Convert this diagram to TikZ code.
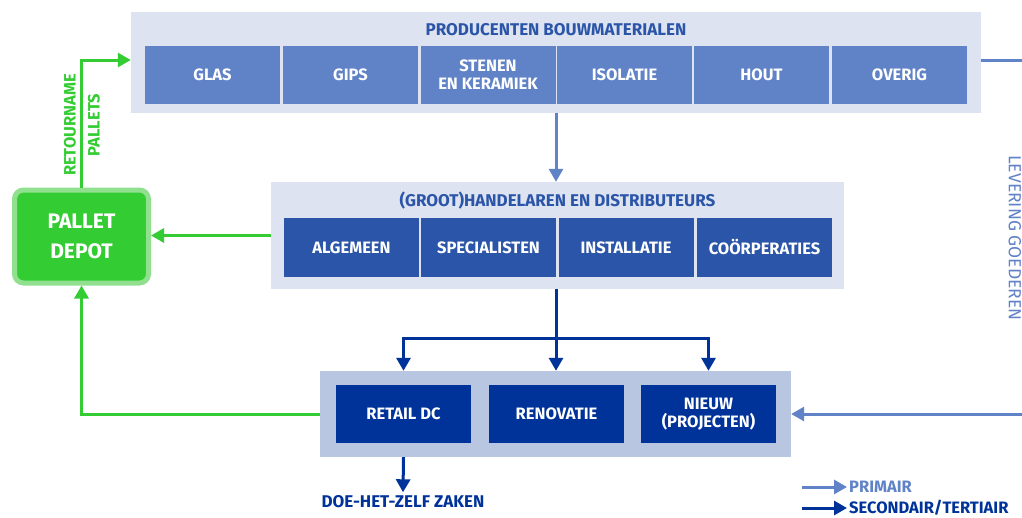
\documentclass[tikz,border=0pt]{standalone}
\usepackage{fontspec}
\setmainfont{Fira Sans}
\usetikzlibrary{arrows.meta}
\usetikzlibrary{calc}
\tikzset{>={Triangle[length=13pt,width=14pt]}}
\definecolor{primary}{HTML}{6082C6}
\definecolor{secondary}{HTML}{003399}
\definecolor{middark}{HTML}{2B55A8}
\definecolor{panel}{HTML}{DDE3F0}
\definecolor{panelbot}{HTML}{B8C6E2}
\definecolor{palletgreen}{HTML}{33CC33}
\definecolor{palletlight}{HTML}{90E090}

\begin{document}
\begin{tikzpicture}[x=1pt, y=-1pt]
            \tikzset{cell/.style={minimum width=135pt, minimum height=58pt, inner sep=0pt, text=white, align=center, font=\bfseries\fontsize{16.5}{17.5}\selectfont}}
            \tikzset{container/.style={inner sep=0pt}}
            \tikzset{title/.style={text=middark, font=\bfseries\fontsize{17}{18}\selectfont}}
            \tikzset{prim/.style={line width=3pt, primary}}
            \tikzset{sec/.style={line width=3pt, secondary}}
            \tikzset{pallet/.style={line width=3pt, palletgreen}}
            \useasboundingbox (0,0) rectangle (1022,517);
            % containers
            \node[container, fill=panel, minimum width=850pt, minimum height=101pt] (prod) at (556,62.5) {};
            \node[container, fill=panel, minimum width=573pt, minimum height=107pt] (handel) at (557.5,235.5) {};
            \node[container, fill=panelbot, minimum width=471pt, minimum height=86pt] (afnemers) at (555.5,414) {};
            \node[title] (prodtitle) at (556,30) {PRODUCENTEN BOUWMATERIALEN};
            \node[title] (handeltitle) at (557.5,201) {(GROOT)HANDELAREN EN DISTRIBUTEURS};
            % producenten
            \node[cell, fill=primary] (glas) at (212.5,74.5) {GLAS};
            \node[cell, fill=primary] (gips) at (350.5,74.5) {GIPS};
            \node[cell, fill=primary] (stenen) at (488,74.5) {STENEN\\EN KERAMIEK};
            \node[cell, fill=primary] (isolatie) at (624.5,74.5) {ISOLATIE};
            \node[cell, fill=primary] (hout) at (761.5,74.5) {HOUT};
            \node[cell, fill=primary] (overig) at (899.5,74.5) {OVERIG};
            % handelaren
            \node[cell, fill=middark, minimum height=59pt] (algemeen) at (351.5,247.5) {ALGEMEEN};
            \node[cell, fill=middark, minimum height=59pt] (specialisten) at (488.5,247.5) {SPECIALISTEN};
            \node[cell, fill=middark, minimum height=59pt] (installatie) at (626,247.5) {INSTALLATIE};
            \node[cell, fill=middark, minimum height=59pt] (coop) at (764.5,247.5) {COÖRPERATIES};
            % afnemers
            \node[cell, fill=secondary] (retail) at (403.5,414) {RETAIL DC};
            \node[cell, fill=secondary] (renovatie) at (556.5,414) {RENOVATIE};
            \node[cell, fill=secondary] (nieuw) at (708.5,414) {NIEUW\\(PROJECTEN)};
            % pallet depot
            \node[draw=palletlight, fill=palletgreen, line width=5pt, rounded corners=9pt, minimum width=134pt, minimum height=93pt, text=white, align=center, font=\bfseries\fontsize{21}{30}\selectfont] (depot) at (81.5,236.5) {PALLET\\DEPOT};
            % primaire stroom
            \draw[prim, ->] (prod.south) -- (prod.south |- handel.north);
            \coordinate (levtop) at (1022,60);
            \coordinate (levbot) at (1022,414);
            \draw[prim] ([yshift=2.5pt]prod.east) -- (levtop);
            \draw[prim, ->] (levbot) -- (afnemers.east);
            \node[text=primary, rotate=-90, font=\fontsize{17.5}{18}\selectfont] (levering) at (1015,238) {LEVERING GOEDEREN};
            % secundaire stroom
            \coordinate (split) at (556,338);
            \draw[sec, ->] (handel.south -| split) -- (split |- afnemers.north);
            \draw[sec, ->] (split) -| (retail |- afnemers.north);
            \draw[sec, ->] (split) -| (nieuw |- afnemers.north);
            \node[text=secondary, font=\bfseries\fontsize{17}{18}\selectfont] (diy) at (403,502) {DOE-HET-ZELF ZAKEN};
            \draw[sec, ->] (retail |- afnemers.south) -- (diy.north);
            % pallets
            \draw[pallet, ->] (handel.west) -- (handel.west -| depot.east);
            \draw[pallet, ->] (depot.north) |- ([yshift=2.5pt]prod.west);
            \draw[pallet, ->] (afnemers.west) -| (depot.south);
            \node[text=palletgreen, rotate=90, align=center, font=\bfseries\fontsize{16.5}{24}\selectfont] (retour) at (82,125) {RETOURNAME\\PALLETS};
            % legenda
            \coordinate (legprimstart) at (802,487);
            \coordinate (legsecstart) at (802,508);
            \node[anchor=west, text=primary, font=\bfseries\fontsize{16.5}{17}\selectfont, inner sep=2pt] (legprim) at (847,487) {PRIMAIR};
            \node[anchor=west, text=secondary, font=\bfseries\fontsize{16.5}{17}\selectfont, inner sep=2pt] (legsec) at (847,508) {SECONDAIR/TERTIAIR};
            \draw[prim, ->] (legprimstart) -- (legprim.west);
            \draw[sec, ->] (legsecstart) -- (legsec.west);
\end{tikzpicture}
\end{document}
